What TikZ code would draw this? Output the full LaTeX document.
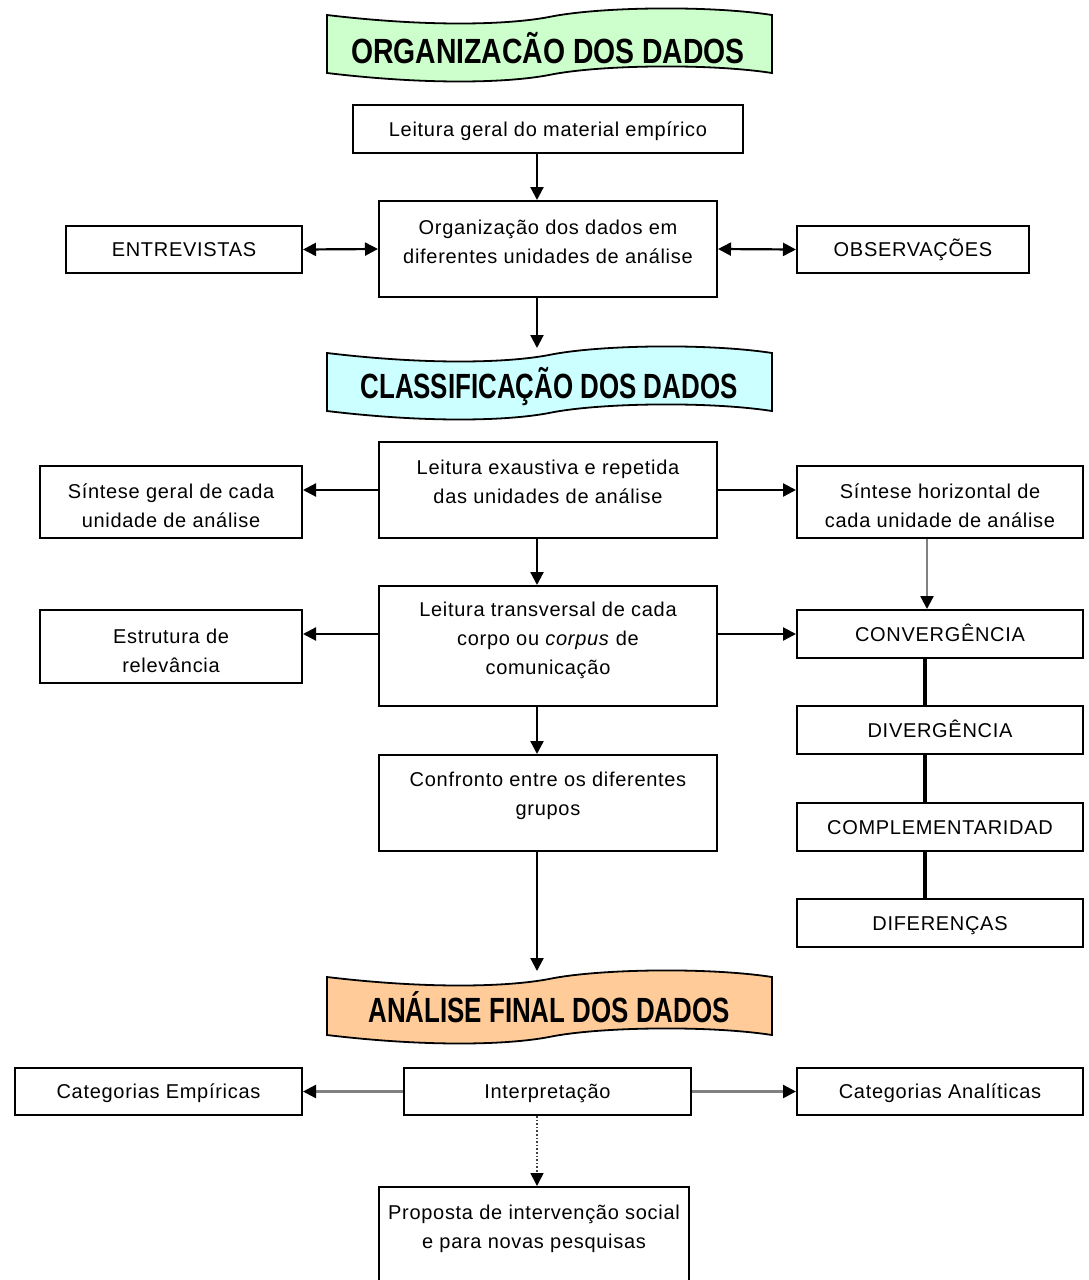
\documentclass[tikz,border=0pt]{standalone}
\usepackage{fontspec}
\usepackage{graphicx}
\setmainfont{Liberation Sans}
\newfontfamily\bodyfont{Liberation Sans}[LetterSpace=3.5]
\usetikzlibrary{arrows.meta}
\definecolor{bgreen}{HTML}{CCFFCC}
\definecolor{bcyan}{HTML}{CCFFFF}
\definecolor{borange}{HTML}{FFCC99}
\begin{document}
\begin{tikzpicture}[x=1pt,y=-1pt,
  box/.style={draw, line width=2pt, inner sep=0pt, text height=14pt, text depth=0pt, font=\bodyfont\fontsize{20}{29}\selectfont},
  txt/.style={align=center, inner sep=0pt, font=\bodyfont\fontsize{20}{29}\selectfont},
  tip/.style={-{Triangle[length=13pt,width=13pt,color=black]}},
  arr/.style={line width=2.2pt, tip},
  darr/.style={line width=2.2pt, {Triangle[length=13pt,width=13pt]}-{Triangle[length=13pt,width=13pt]}},
  garr/.style={line width=2.4pt, draw=black!50, tip},
  dotarr/.style={line width=1.6pt, draw=black!75, dotted, tip},
  bar/.style={line width=4.5pt},
  bannershape/.style={draw, line width=1.8pt},
  bannertxt/.style={font=\fontsize{35}{40}\selectfont\bfseries, inner sep=0pt, text height=26pt, text depth=0pt},
]
\useasboundingbox (0,0) rectangle (1088,1280);

% banners
\path[bannershape, fill=bgreen, shift={(327,15)}] (0,0) .. controls (100,12) and (180,10) .. (222,2) .. controls (270,-8) and (380,-10) .. (445,0) -- (445,58) .. controls (380,48) and (270,50) .. (222,60) .. controls (180,68) and (100,70) .. (0,58) -- cycle;
\node[bannertxt] (b1) at (548,50) {\scalebox{0.81}[1]{ORGANIZACÃO DOS DADOS}};

\path[bannershape, fill=bcyan, shift={(327,353)}] (0,0) .. controls (100,12) and (180,10) .. (222,2) .. controls (270,-8) and (380,-10) .. (445,0) -- (445,58) .. controls (380,48) and (270,50) .. (222,60) .. controls (180,68) and (100,70) .. (0,58) -- cycle;
\node[bannertxt] (b2) at (549,385.5) {\scalebox{0.74}[1]{CLASSIFICAÇÃO DOS DADOS}};
\coordinate (b2top) at (537,348);

\path[bannershape, fill=borange, shift={(327,977)}] (0,0) .. controls (100,12) and (180,10) .. (222,2) .. controls (270,-8) and (380,-10) .. (445,0) -- (445,58) .. controls (380,48) and (270,50) .. (222,60) .. controls (180,68) and (100,70) .. (0,58) -- cycle;
\node[bannertxt] (b3) at (549,1009) {\scalebox{0.74}[1]{ANÁLISE FINAL DOS DADOS}};
\coordinate (b3top) at (537,971);

% boxes
\node[box, minimum width=390, minimum height=48] (lg) at (548,129) {Leitura geral do material empírico};
\node[box, minimum width=338, minimum height=96] (org) at (548,249) {};
\node[txt] (torg) at ([yshift=7.5]org.center) {Organização dos dados em\\diferentes unidades de análise};
\node[box, minimum width=236, minimum height=47] (ent) at (184,249.5) {ENTREVISTAS};
\node[box, minimum width=232, minimum height=47] (obs) at (913,249.5) {OBSERVAÇÕES};

\node[box, minimum width=338, minimum height=96] (lex) at (548,490) {};
\node[txt] (tlex) at ([yshift=8.5]lex.center) {Leitura exaustiva e repetida\\das unidades de análise};
\node[box, minimum width=262, minimum height=72] (sg) at (171,502) {};
\node[txt] (tsg) at ([yshift=-3.5]sg.center) {Síntese geral de cada\\unidade de análise};
\node[box, minimum width=286, minimum height=72] (sh) at (940,502) {};
\node[txt] (tsh) at ([yshift=-3.5]sh.center) {Síntese horizontal de\\cada unidade de análise};

\node[box, minimum width=338, minimum height=120] (ltr) at (548,646) {};
\node[txt] (tltr) at ([yshift=6]ltr.center) {Leitura transversal de cada\\corpo ou \textit{corpus} de\\comunicação};
\node[box, minimum width=262, minimum height=73] (est) at (171,646.5) {};
\node[txt] (test) at ([yshift=-4]est.center) {Estrutura de\\relevância};

\node[box, minimum width=286, minimum height=48] (conv) at (940,634) {CONVERGÊNCIA};
\node[box, minimum width=286, minimum height=48] (div) at (940,730) {DIVERGÊNCIA};
\node[box, minimum width=286, minimum height=48] (comp) at (940,827) {COMPLEMENTARIDAD};
\node[box, minimum width=286, minimum height=48] (dif) at (940,923) {DIFERENÇAS};

\node[box, minimum width=338, minimum height=96] (conf) at (548,803) {};
\node[txt] (tconf) at ([yshift=7.5]conf.center) {Confronto entre os diferentes\\grupos};

\node[box, minimum width=287, minimum height=47] (ce) at (158.5,1091.5) {Categorias Empíricas};
\node[box, minimum width=287, minimum height=47] (int) at (547.5,1091.5) {Interpretação};
\node[box, minimum width=286, minimum height=47] (ca) at (940,1091.5) {Categorias Analíticas};
\node[box, minimum width=310, minimum height=113] (prop) at (534,1243.5) {};
\node[txt] (tprop) at ([yshift=14.5]prop.center) {Proposta de intervenção social\\e para novas pesquisas};

% connectors
\draw[arr] ([xshift=-11]lg.south) -- ([xshift=-11]org.north);
\draw[darr] (ent.east) -- (org.west);
\draw[darr] (org.east) -- (obs.west);
\draw[arr] ([xshift=-11]org.south) -- (b2top);

\draw[arr] (lex.west) -- (lex.west -| sg.east);
\draw[arr] (lex.east) -- (lex.east -| sh.west);
\draw[arr] ([xshift=-11]lex.south) -- ([xshift=-11]ltr.north);
\draw[garr] ([xshift=-13]sh.south) -- ([xshift=-13]conv.north);

\draw[arr] (ltr.west |- conv.west) -- (est.east |- conv.west);
\draw[arr] (ltr.east |- conv.west) -- (conv.west);
\draw[arr] ([xshift=-11]ltr.south) -- ([xshift=-11]conf.north);
\draw[arr] ([xshift=-11]conf.south) -- (b3top);

\draw[bar] ([xshift=-15]conv.south) -- ([xshift=-15]div.north);
\draw[bar] ([xshift=-15]div.south) -- ([xshift=-15]comp.north);
\draw[bar] ([xshift=-15]comp.south) -- ([xshift=-15]dif.north);

\draw[garr] (int.west) -- (ce.east);
\draw[garr] (int.east) -- (ca.west);
\draw[dotarr] ([xshift=-10.5]int.south) -- ([xshift=-10.5]int.south |- prop.north);
\end{tikzpicture}
\end{document}
